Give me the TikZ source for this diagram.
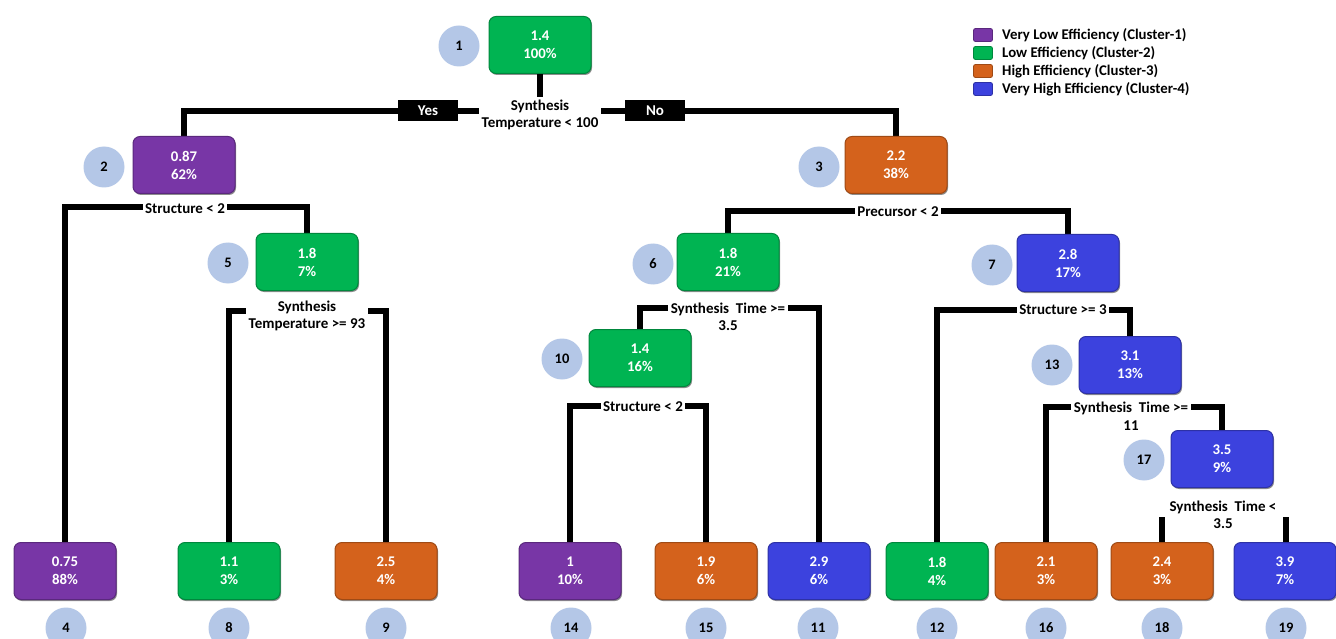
\documentclass[tikz,border=0pt]{standalone}
\usepackage{fontspec}
\setmainfont{Carlito}
\usetikzlibrary{backgrounds,shadows}
\definecolor{cpur}{RGB}{120,54,166}
\definecolor{cgrn}{RGB}{0,180,82}
\definecolor{cora}{RGB}{212,98,28}
\definecolor{cblu}{RGB}{60,66,222}
\definecolor{ccir}{RGB}{180,199,231}
\newcommand\boxfnt{\fontsize{14.8}{18}\selectfont\bfseries}
\newcommand\condfnt{\fontsize{15}{17.5}\selectfont\bfseries}
\newcommand\numfnt{\fontsize{14.5}{16}\selectfont\bfseries}
\newcommand\legfnt{\fontsize{14.8}{15}\selectfont\bfseries}
\tikzset{
  leaf/.style={rounded corners=7pt, minimum width=102pt, minimum height=57pt,
    inner sep=0pt, text=white, font=\boxfnt, align=center,
    fill=#1, draw=#1!75!black, line width=1pt,
    drop shadow={shadow xshift=1pt, shadow yshift=-1.5pt, opacity=0.45, fill=black}},
  idc/.style={circle, fill=ccir, minimum size=41pt, inner sep=0pt, font=\numfnt},
  cond/.style={fill=white, inner sep=2.5pt, align=center, font=\condfnt},
  yn/.style={fill=black, text=white, minimum width=60pt, minimum height=21pt, inner sep=0pt, font=\condfnt},
  conn/.style={line width=6pt, line join=miter},
  legsq/.style={rounded corners=2pt, minimum width=19pt, minimum height=13pt, inner sep=0pt,
    fill=#1, draw=#1!75!black, line width=0.8pt},
  legtx/.style={anchor=west, font=\legfnt, inner sep=0pt}
}
\begin{document}
\begin{tikzpicture}[x=1pt,y=-1pt]
\clip (0,0) rectangle (1336,639);
% split labels (drawn first so boxes sit on top)
\node[cond] (c1) at (540,115) {Synthesis\\Temperature < 100};
\node[cond] (c2) at (185,209) {Structure < 2};
\node[cond] (c5) at (307,316) {Synthesis\\Temperature >= 93};
\node[cond] (c3) at (898,212) {Precursor < 2};
\node[cond] (c6) at (728,317) {Synthesis~ Time >=\\3.5};
\node[cond] (c10) at (643,407) {Structure < 2};
\node[cond] (c7) at (1063,310) {Structure >= 3};
\node[cond] (c13) at (1131,416) {Synthesis~ Time >=\\11};
\node[cond] (c17) at (1223,515) {Synthesis~ Time <\\3.5};
\node[yn] (yes) at (428,111) {Yes};
\node[yn] (no) at (655,111) {No};
% tree nodes
\node[leaf=cgrn] (n1) at (540,45) {1.4\\100\%};
\node[leaf=cpur] (n2) at (184,165) {0.87\\62\%};
\node[leaf=cora] (n3) at (896,165) {2.2\\38\%};
\node[leaf=cgrn] (n5) at (307,262) {1.8\\7\%};
\node[leaf=cgrn] (n6) at (728,262) {1.8\\21\%};
\node[leaf=cblu] (n7) at (1068,263) {2.8\\17\%};
\node[leaf=cgrn] (n10) at (640,358) {1.4\\16\%};
\node[leaf=cblu] (n13) at (1130,365) {3.1\\13\%};
\node[leaf=cblu] (n17) at (1222,459) {3.5\\9\%};
\node[leaf=cpur] (n4) at (65,571) {0.75\\88\%};
\node[leaf=cgrn] (n8) at (229,571) {1.1\\3\%};
\node[leaf=cora] (n9) at (386,571) {2.5\\4\%};
\node[leaf=cpur] (n14) at (570,571) {1\\10\%};
\node[leaf=cora] (n15) at (706,571) {1.9\\6\%};
\node[leaf=cblu] (n11) at (819,571) {2.9\\6\%};
\node[leaf=cgrn] (n12) at (937,571) {1.8\\4\%};
\node[leaf=cora] (n16) at (1046,571) {2.1\\3\%};
\node[leaf=cora] (n18) at (1162,571) {2.4\\3\%};
\node[leaf=cblu] (n19) at (1285,571) {3.9\\7\%};
% id circles
\node[idc] (i1) at (459,46) {1};
\node[idc] (i2) at (104,167) {2};
\node[idc] (i3) at (819,167) {3};
\node[idc] (i5) at (228,263) {5};
\node[idc] (i6) at (653,264) {6};
\node[idc] (i7) at (992,265) {7};
\node[idc] (i10) at (562,359) {10};
\node[idc] (i13) at (1052,365) {13};
\node[idc] (i17) at (1144,460) {17};
\node[idc] (i4) at (66,628) {4};
\node[idc] (i8) at (229,628) {8};
\node[idc] (i9) at (386,628) {9};
\node[idc] (i14) at (571,628) {14};
\node[idc] (i15) at (706,628) {15};
\node[idc] (i11) at (818,628) {11};
\node[idc] (i12) at (937,628) {12};
\node[idc] (i16) at (1046,628) {16};
\node[idc] (i18) at (1162,628) {18};
\node[idc] (i19) at (1286,628) {19};
% split coordinates
\coordinate (s1) at (540,111);
\coordinate (s2) at (184,207);
\coordinate (s5) at (307,311);
\coordinate (s3) at (898,211);
\coordinate (s6) at (728,308);
\coordinate (s10) at (643,406);
\coordinate (s7) at (1063,310);
\coordinate (s13) at (1131,407);
\coordinate (t18) at (1162,517);
\coordinate (t19) at (1286,517);
\begin{scope}[on background layer]
\fill[white] (0,0) rectangle (1336,639);
\draw[conn] (n1.south) -- (c1.north);
\draw[conn] (n2.north) |- (s1) -| (n3.north);
\draw[conn] (n4.north) |- (s2) -| (n5.north);
\draw[conn] (n8.north) |- (s5) -| (n9.north);
\draw[conn] (n6.north) |- (s3) -| (n7.north);
\draw[conn] (n10.north) |- (s6) -| (n11.north);
\draw[conn] (n14.north) |- (s10) -| (n15.north);
\draw[conn] (n12.north) |- (s7) -| (n13.north);
\draw[conn] (n16.north) |- (s13) -| (n17.north);
\draw[conn] (n18.north) -- (t18);
\draw[conn] (n19.north -| t19) -- (t19);
\end{scope}
% legend
\node[legsq=cpur] (l1) at (983,35) {};
\node[legsq=cgrn] (l2) at (983,53) {};
\node[legsq=cora] (l3) at (983,71) {};
\node[legsq=cblu] (l4) at (983,89) {};
\node[legtx] (lt1) at (1002,35) {Very Low Efficiency (Cluster-1)};
\node[legtx] (lt2) at (1002,53) {Low Efficiency (Cluster-2)};
\node[legtx] (lt3) at (1002,71) {High Efficiency (Cluster-3)};
\node[legtx] (lt4) at (1002,89) {Very High Efficiency (Cluster-4)};
\end{tikzpicture}
\end{document}
